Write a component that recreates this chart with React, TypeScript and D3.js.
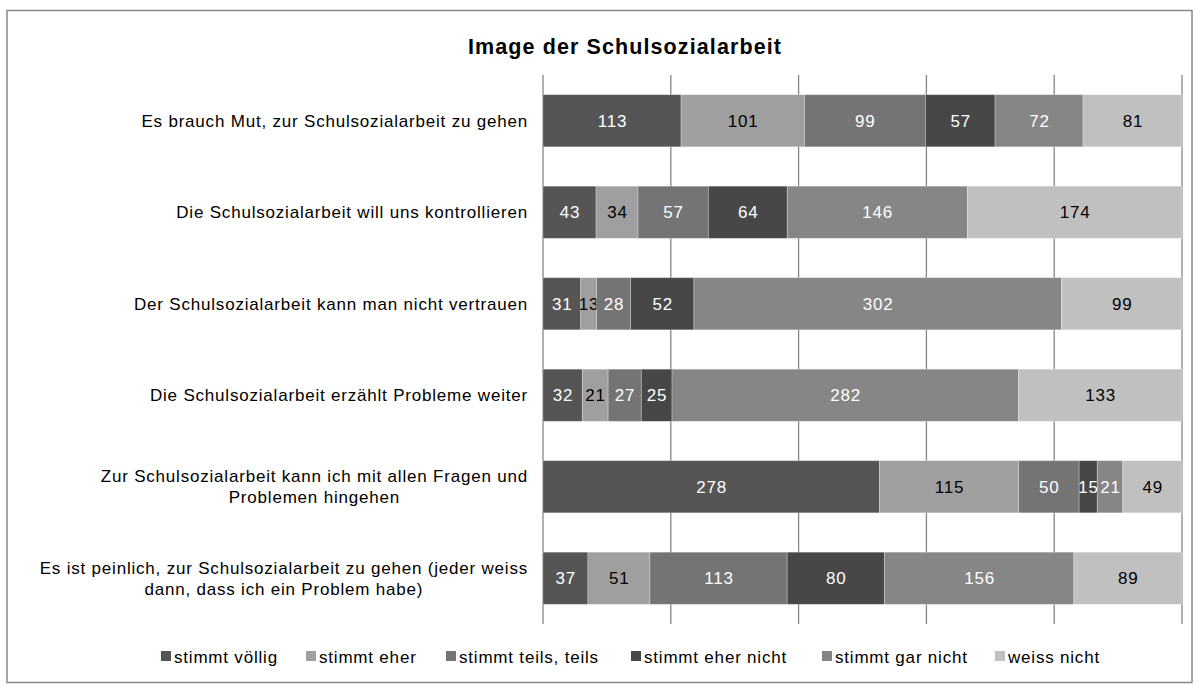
import React from "react";
import * as d3 from "d3";

const categories = [
  "Es brauch Mut, zur Schulsozialarbeit zu gehen",
  "Die Schulsozialarbeit will uns kontrollieren",
  "Der Schulsozialarbeit kann man nicht vertrauen",
  "Die Schulsozialarbeit erzählt Probleme weiter",
  "Zur Schulsozialarbeit kann ich mit allen Fragen und|Problemen hingehen",
  "Es ist peinlich, zur Schulsozialarbeit zu gehen (jeder weiss|dann, dass ich ein Problem habe)",
];
const seriesNames = ["stimmt völlig", "stimmt eher", "stimmt teils, teils", "stimmt eher nicht", "stimmt gar nicht", "weiss nicht"];
const stimmtVoellig = [113, 43, 31, 32, 278, 37];
const stimmtEher = [101, 34, 13, 21, 115, 51];
const stimmtTeils = [99, 57, 28, 27, 50, 113];
const stimmtEherNicht = [57, 64, 52, 25, 15, 80];
const stimmtGarNicht = [72, 146, 302, 282, 21, 156];
const weissNicht = [81, 174, 99, 133, 49, 89];
const xTicks = [0, 0.2, 0.4, 0.6, 0.8, 1];

const colors = ["#555555", "#9f9f9f", "#747474", "#474747", "#868686", "#c0c0c0"];
const textColors = ["#fff", "#000", "#fff", "#fff", "#fff", "#000"];

const FONT = "'Liberation Sans', Arial, sans-serif";
const FS = 17;
const LS = 0.8;

function measure(text: string, size: number, ls: number, weight = "normal") {
  if (typeof document === "undefined") return text.length * size * 0.5;
  const c = document.createElement("canvas");
  const ctx = c.getContext("2d")!;
  ctx.font = `${weight} ${size}px ${FONT}`;
  return ctx.measureText(text).width + ls * text.length;
}

export default function App() {
  const W = 1198, H = 686;
  const series = [stimmtVoellig, stimmtEher, stimmtTeils, stimmtEherNicht, stimmtGarNicht, weissNicht];
  const x = d3.scaleLinear().domain([0, 1]).range([543, 1182]);
  const y = d3.scaleBand<number>().domain(d3.range(categories.length)).range([75, 624]).paddingInner(0.43).paddingOuter(0.215);
  const legendX = [161, 306, 446, 631, 822, 995];

  return (
    <svg width={W} height={H} style={{ position: "absolute", left: 0, top: 0 }} fontFamily={FONT}>
      <rect x={0} y={0} width={W} height={H} fill="#fff" />
      <rect x={7} y={10.5} width={1185} height={672} fill="none" stroke="#888" strokeWidth={1.5} />
      <text x={625} y={54} textAnchor="middle" fontSize={21.5} fontWeight="bold" letterSpacing={1.1} fill="#000">Image der Schulsozialarbeit</text>
      {xTicks.map((t) => (
        <line key={t} x1={x(t)} x2={x(t)} y1={75} y2={624} stroke="#868686" strokeWidth={1.3} />
      ))}
      {categories.map((c, i) => {
        const total = d3.sum(series, (s) => s[i]);
        let cum = 0;
        const by = y(i)!;
        const bh = y.bandwidth();
        const lines = c.split("|");
        const maxW = lines.length > 1 ? d3.max(lines, (l) => measure(l, FS, LS))! : 0;
        return (
          <g key={i}>
            {series.map((s, j) => {
              const x0 = x(cum / total);
              cum += s[i];
              const x1 = x(cum / total);
              return (
                <g key={j}>
                  <rect x={x0} y={by} width={x1 - x0} height={bh} fill={colors[j]} stroke="#fff" strokeOpacity={0.35} strokeWidth={0.8} />
                  <text x={(x0 + x1) / 2 + LS / 2} y={by + bh / 2} dy="0.36em" textAnchor="middle" fontSize={FS} letterSpacing={LS} fill={textColors[j]}>{s[i]}</text>
                </g>
              );
            })}
            {lines.map((l, k) =>
              lines.length > 1 ? (
                <text key={k} x={528 - maxW / 2} y={by + bh / 2 + (k - (lines.length - 1) / 2) * 21} dy="0.36em" textAnchor="middle" fontSize={FS} letterSpacing={LS} fill="#000">{l}</text>
              ) : (
                <text key={k} x={528} y={by + bh / 2} dy="0.36em" textAnchor="end" fontSize={FS} letterSpacing={LS} fill="#000">{l}</text>
              )
            )}
          </g>
        );
      })}
      {seriesNames.map((n, j) => (
        <g key={n}>
          <rect x={legendX[j]} y={651} width={10} height={10} fill={colors[j]} />
          <text x={legendX[j] + 13} y={657} dy="0.36em" fontSize={FS} letterSpacing={LS} fill="#000">{n}</text>
        </g>
      ))}
    </svg>
  );
}
